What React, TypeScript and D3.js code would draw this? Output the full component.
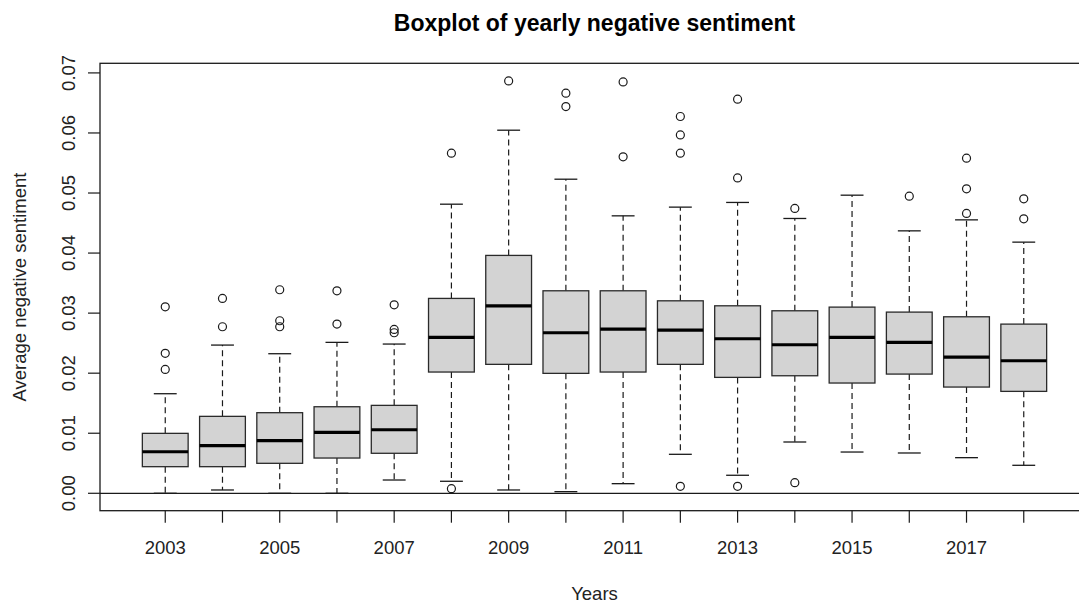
import React from "react";
import * as d3 from "d3";

const years = [2003, 2004, 2005, 2006, 2007, 2008, 2009, 2010, 2011, 2012, 2013, 2014, 2015, 2016, 2017, 2018];
const lowerWhisker = [0, 0.00055, 0, 0, 0.00221, 0.002, 0.00055, 0.00027, 0.0016, 0.00649, 0.003, 0.00854, 0.00687, 0.00671, 0.00593, 0.00466];
const q1 = [0.00443, 0.00443, 0.00499, 0.00587, 0.00666, 0.02019, 0.02147, 0.01997, 0.02019, 0.02147, 0.0193, 0.01957, 0.01836, 0.01985, 0.01769, 0.01697];
const median = [0.00692, 0.00792, 0.00876, 0.01015, 0.01058, 0.02596, 0.03122, 0.02673, 0.02734, 0.02718, 0.02573, 0.02473, 0.02596, 0.02513, 0.02268, 0.02207];
const q3 = [0.00998, 0.01281, 0.01342, 0.01441, 0.01464, 0.03245, 0.03961, 0.03372, 0.03372, 0.03205, 0.03122, 0.03039, 0.031, 0.03017, 0.02939, 0.02817];
const upperWhisker = [0.01658, 0.02468, 0.02324, 0.02513, 0.02485, 0.04814, 0.06046, 0.0523, 0.0462, 0.04765, 0.04843, 0.04576, 0.04964, 0.0437, 0.04553, 0.04182];
const outliers = [
  [0.03105, 0.0233, 0.02063],
  [0.03245, 0.02773],
  [0.03389, 0.02873, 0.02773],
  [0.03372, 0.02817],
  [0.03139, 0.02729, 0.02673],
  [0.05663, 0.00077],
  [0.06867],
  [0.06662, 0.0644],
  [0.0685, 0.05602],
  [0.06274, 0.05968, 0.05663, 0.00116],
  [0.06562, 0.05252, 0.00116],
  [0.04743, 0.00177],
  [],
  [0.04948],
  [0.0558, 0.05069, 0.0466],
  [0.04903, 0.0457],
];
const yTicks = [0, 0.01, 0.02, 0.03, 0.04, 0.05, 0.06, 0.07];
const xLabels = ["2003", "", "2005", "", "2007", "", "2009", "", "2011", "", "2013", "", "2015", "", "2017", ""];

const W = 1079;
const H = 607;
const left = 100, right = 1089, top = 63.3, bottom = 510.7;
const FONT = "'Liberation Sans', Arial, sans-serif";
const INK = "#1a1a1a";

export default function App() {
  const x = d3.scaleLinear().domain([-0.14, 17.14]).range([left, right]);
  const y = d3.scaleLinear().domain([-0.0029, 0.0716]).range([bottom, top]);
  const bw = x(0.8) - x(0);
  const sw = x(0.4) - x(0);

  return (
    <svg width={W} height={H} style={{ position: "absolute", left: 0, top: 0, display: "block", background: "#fff" }}>
      <text x={(left + right) / 2} y={31} textAnchor="middle" fontFamily={FONT} fontWeight="bold" fontSize={23} fill="#000">
        Boxplot of yearly negative sentiment
      </text>

      {/* zero reference line */}
      <line x1={left} x2={right} y1={y(0)} y2={y(0)} stroke={INK} strokeWidth={1.3} />

      {years.map((yr, i) => {
        const cx = x(i + 1);
        return (
          <g key={yr}>
            <line x1={cx} x2={cx} y1={y(q3[i])} y2={y(upperWhisker[i])} stroke={INK} strokeWidth={1.2} strokeDasharray="6,4" />
            <line x1={cx} x2={cx} y1={y(q1[i])} y2={y(lowerWhisker[i])} stroke={INK} strokeWidth={1.2} strokeDasharray="6,4" />
            <line x1={cx - sw / 2} x2={cx + sw / 2} y1={y(upperWhisker[i])} y2={y(upperWhisker[i])} stroke={INK} strokeWidth={1.3} />
            <line x1={cx - sw / 2} x2={cx + sw / 2} y1={y(lowerWhisker[i])} y2={y(lowerWhisker[i])} stroke={INK} strokeWidth={1.3} />
            <rect x={cx - bw / 2} y={y(q3[i])} width={bw} height={y(q1[i]) - y(q3[i])} fill="#d3d3d3" stroke="#2a2a2a" strokeWidth={1.3} />
            <line x1={cx - bw / 2} x2={cx + bw / 2} y1={y(median[i])} y2={y(median[i])} stroke="#000" strokeWidth={3.2} />
            {outliers[i].map((v, j) => (
              <circle key={j} cx={cx} cy={y(v)} r={4} fill="none" stroke={INK} strokeWidth={1.2} />
            ))}
          </g>
        );
      })}

      {/* plot frame */}
      <rect x={left} y={top} width={right - left} height={bottom - top} fill="none" stroke={INK} strokeWidth={1.3} />

      {/* y axis */}
      {yTicks.map((t) => (
        <g key={t}>
          <line x1={left - 12} x2={left} y1={y(t)} y2={y(t)} stroke={INK} strokeWidth={1.2} />
          <text
            transform={`translate(75,${y(t)}) rotate(-90)`}
            textAnchor="middle"
            fontFamily={FONT}
            fontSize={18.5}
            fill="#222"
          >
            {d3.format(".2f")(t)}
          </text>
        </g>
      ))}

      {/* x axis */}
      {years.map((yr, i) => (
        <g key={yr}>
          <line x1={x(i + 1)} x2={x(i + 1)} y1={bottom} y2={bottom + 12} stroke={INK} strokeWidth={1.2} />
          <text x={x(i + 1)} y={553.5} textAnchor="middle" fontFamily={FONT} fontSize={18.5} fill="#222">
            {xLabels[i]}
          </text>
        </g>
      ))}

      <text x={(left + right) / 2} y={600} textAnchor="middle" fontFamily={FONT} fontSize={18.5} fill="#222">
        Years
      </text>
      <text transform={`translate(26,${(top + bottom) / 2}) rotate(-90)`} textAnchor="middle" fontFamily={FONT} fontSize={18.5} fill="#222">
        Average negative sentiment
      </text>
    </svg>
  );
}
